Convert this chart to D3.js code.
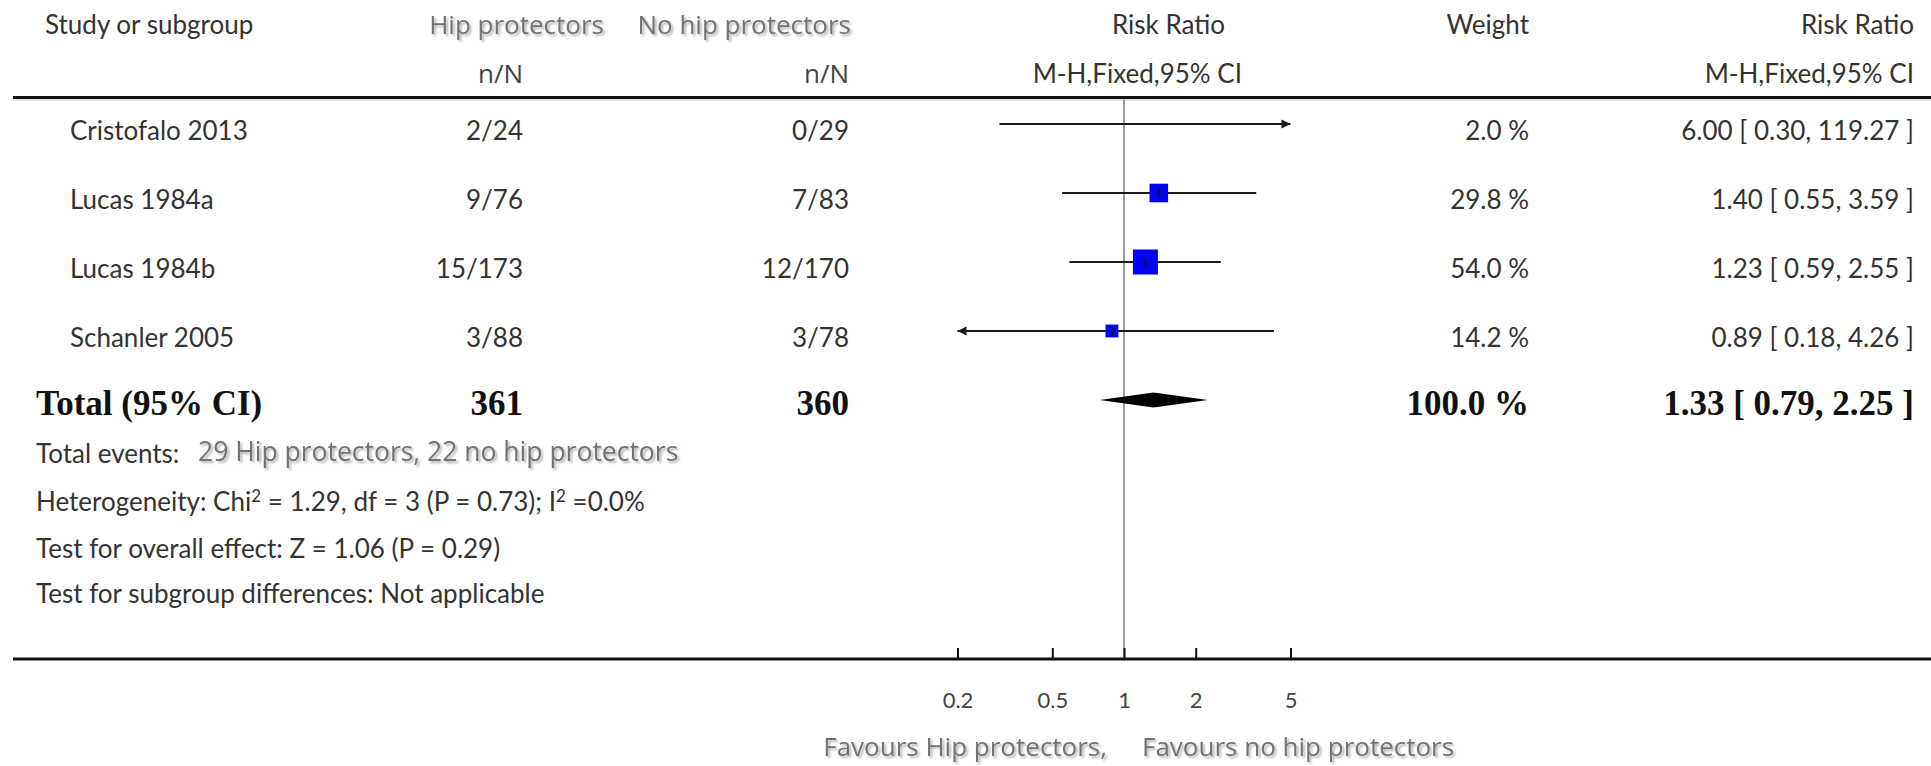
<!DOCTYPE html>
<html>
<head>
<meta charset="utf-8">
<script src="https://cdn.jsdelivr.net/npm/d3@7"></script>
<style>
  html, body { margin: 0; padding: 0; background: #fff; }
  svg { display: block; }
  .body { font-family: Lato, "Open Sans", sans-serif; font-size: 26px; fill: #333; }
  .seg { font-family: "Open Sans", "Noto Sans", sans-serif; }
  .gray { fill: #737373; filter: url(#sh); }
  .bold { font-family: "Liberation Serif", "DejaVu Serif", serif; font-weight: bold; fill: #111; }
</style>
</head>
<body>
<script>
// ---------------- data ----------------
const studies   = ["Cristofalo 2013", "Lucas 1984a", "Lucas 1984b", "Schanler 2005"];
const hipEvents = [2, 9, 15, 3];
const hipTotal  = [24, 76, 173, 88];
const noEvents  = [0, 7, 12, 3];
const noTotal   = [29, 83, 170, 78];
const weights   = [2.0, 29.8, 54.0, 14.2];
const rr        = [6.00, 1.40, 1.23, 0.89];
const ciLow     = [0.30, 0.55, 0.59, 0.18];
const ciHigh    = [119.27, 3.59, 2.55, 4.26];
const totalRR   = [1.33, 0.79, 2.25];
const totalN    = [361, 360];
const totalWeight = 100.0;
const tickValues = [0.2, 0.5, 1, 2, 5];
const tickLabels = ["0.2", "0.5", "1", "2", "5"];
const footerLines = [
  "Total events:",
  "Heterogeneity: Chi",
  "Test for overall effect: Z = 1.06 (P = 0.29)",
  "Test for subgroup differences: Not applicable"
];
const totalEventsText = "29 Hip protectors, 22 no hip protectors";
const favours = ["Favours Hip protectors,", "Favours no hip protectors"];

// ---------------- layout ----------------
const W = 1931, H = 766;
const svg = d3.select("body").append("svg").attr("width", W).attr("height", H);
const defs = svg.append("defs");
const f = defs.append("filter").attr("id", "sh").attr("x", "-5%").attr("y", "-30%").attr("width", "115%").attr("height", "170%");
f.append("feDropShadow").attr("dx", 2).attr("dy", 2).attr("stdDeviation", 1.2)
  .attr("flood-color", "#000").attr("flood-opacity", 0.3);

const x = d3.scaleLog().domain([0.2, 5]).range([957.5, 1290.5]);
const rowIdx = d3.range(studies.length + 1);
const y = d3.scalePoint().domain(rowIdx).range([124, 400]);
const size = d3.scaleSqrt().domain([0, 100]).range([0, 34]);

const topRuleY = 97.5, axisY = 659;
const colStudy = 70, colHip = 523, colNo = 849, colWeight = 1529, colRR = 1914;

const g = svg.append("g").attr("class", "body");

// header
g.append("text").attr("x", 45).attr("y", 34).text("Study or subgroup");
g.append("text").attr("class", "seg gray").attr("x", 604).attr("y", 34).attr("text-anchor", "end").text("Hip protectors");
g.append("text").attr("class", "seg gray").attr("x", 851).attr("y", 34).attr("text-anchor", "end").text("No hip protectors");
g.append("text").attr("class", "seg").attr("x", colHip).attr("y", 83).attr("text-anchor", "end").style("fill", "#444").text("n/N");
g.append("text").attr("class", "seg").attr("x", colNo).attr("y", 83).attr("text-anchor", "end").style("fill", "#444").text("n/N");
g.append("text").attr("x", 1225).attr("y", 34).attr("text-anchor", "end").text("Risk Ratio");
g.append("text").attr("x", 1242).attr("y", 83).attr("text-anchor", "end").text("M-H,Fixed,95% CI");
g.append("text").attr("x", colWeight).attr("y", 34).attr("text-anchor", "end").text("Weight");
g.append("text").attr("x", colRR).attr("y", 34).attr("text-anchor", "end").text("Risk Ratio");
g.append("text").attr("x", colRR).attr("y", 83).attr("text-anchor", "end").text("M-H,Fixed,95% CI");

// rules
svg.append("line").attr("x1", 13).attr("x2", W).attr("y1", topRuleY).attr("y2", topRuleY)
  .attr("stroke", "#111").attr("stroke-width", 3);
svg.append("line").attr("x1", 13).attr("x2", W).attr("y1", topRuleY + 2.5).attr("y2", topRuleY + 2.5)
  .attr("stroke", "#ccc").attr("stroke-width", 1);

// reference line at 1
svg.append("line").attr("x1", x(1)).attr("x2", x(1)).attr("y1", topRuleY + 2).attr("y2", axisY)
  .attr("stroke", "#9a9a9a").attr("stroke-width", 2);

// rows text
const fmt2 = d3.format(".2f"), fmt1 = d3.format(".1f");
studies.forEach((s, i) => {
  const by = y(i) + 16;
  g.append("text").attr("x", colStudy).attr("y", by).text(s);
  g.append("text").attr("x", colHip).attr("y", by).attr("text-anchor", "end").text(hipEvents[i] + "/" + hipTotal[i]);
  g.append("text").attr("x", colNo).attr("y", by).attr("text-anchor", "end").text(noEvents[i] + "/" + noTotal[i]);
  g.append("text").attr("x", colWeight).attr("y", by).attr("text-anchor", "end").text(fmt1(weights[i]) + " %");
  g.append("text").attr("x", colRR).attr("y", by).attr("text-anchor", "end")
    .text(fmt2(rr[i]) + " [ " + fmt2(ciLow[i]) + ", " + fmt2(ciHigh[i]) + " ]");
});

// CI lines, arrows, squares
const [dmin, dmax] = x.domain();
const plot = svg.append("g");
studies.forEach((s, i) => {
  const cy = y(i);
  const clipL = ciLow[i] < dmin, clipR = ciHigh[i] > dmax;
  const x1 = x(Math.max(ciLow[i], dmin)), x2 = x(Math.min(ciHigh[i], dmax));
  plot.append("line").attr("x1", x1).attr("x2", x2).attr("y1", cy).attr("y2", cy)
    .attr("stroke", "#1a1a1a").attr("stroke-width", 2);
  if (clipR) plot.append("path").attr("d", `M${x2},${cy}l-9,-4.5v9z`).attr("fill", "#1a1a1a");
  if (clipL) plot.append("path").attr("d", `M${x1},${cy}l9,-4.5v9z`).attr("fill", "#1a1a1a");
  if (rr[i] >= dmin && rr[i] <= dmax) {
    const sz = size(weights[i]);
    plot.append("rect").attr("x", x(rr[i]) - sz / 2).attr("y", cy - sz / 2)
      .attr("width", sz).attr("height", sz).attr("fill", "#0000ff");
    plot.append("line").attr("x1", x(rr[i])).attr("x2", x(rr[i])).attr("y1", cy - 4.5).attr("y2", cy + 4.5)
      .attr("stroke", "#111").attr("stroke-width", 2);
  }
});

// total row
const ty = y(studies.length);
plot.append("path")
  .attr("d", `M${x(totalRR[1])},${ty}L${x(totalRR[0])},${ty - 7.5}L${x(totalRR[2])},${ty}L${x(totalRR[0])},${ty + 7.5}Z`)
  .attr("fill", "#000");
const tb = ty + 15;
const bg = svg.append("g").attr("class", "bold").style("font-size", "35px");
bg.append("text").attr("x", 36).attr("y", tb).text("Total (95% CI)");
bg.append("text").attr("x", colHip).attr("y", tb).attr("text-anchor", "end").text(totalN[0]);
bg.append("text").attr("x", colNo).attr("y", tb).attr("text-anchor", "end").text(totalN[1]);
bg.append("text").attr("x", colWeight).attr("y", tb).attr("text-anchor", "end").text(fmt1(totalWeight) + " %");
bg.append("text").attr("x", colRR).attr("y", tb).attr("text-anchor", "end")
  .text(fmt2(totalRR[0]) + " [ " + fmt2(totalRR[1]) + ", " + fmt2(totalRR[2]) + " ]");

// footer
const fy = [463, 511, 558, 603];
g.append("text").attr("x", 36).attr("y", fy[0]).text(footerLines[0]);
g.append("text").attr("class", "seg gray").attr("x", 198).attr("y", fy[0] - 2).style("font-size", "26.5px").text(totalEventsText);
const het = g.append("text").attr("x", 36).attr("y", fy[1]);
het.append("tspan").text(footerLines[1]);
het.append("tspan").attr("dy", -9).style("font-size", "17px").text("2");
het.append("tspan").attr("dy", 9).text(" = 1.29, df = 3 (P = 0.73); I");
het.append("tspan").attr("dy", -9).style("font-size", "17px").text("2");
het.append("tspan").attr("dy", 9).text(" =0.0%");
g.append("text").attr("x", 36).attr("y", fy[2]).text(footerLines[2]);
g.append("text").attr("x", 36).attr("y", fy[3]).text(footerLines[3]);

// axis
svg.append("line").attr("x1", 13).attr("x2", W).attr("y1", axisY).attr("y2", axisY)
  .attr("stroke", "#111").attr("stroke-width", 3);
const axis = d3.axisBottom(x).tickValues(tickValues)
  .tickFormat((d, i) => tickLabels[i]).tickSizeInner(-11).tickSizeOuter(0).tickPadding(33);
const ag = svg.append("g").attr("transform", `translate(0,${axisY})`).call(axis);
ag.select(".domain").remove();
ag.selectAll(".tick line").attr("stroke", "#111").attr("stroke-width", 2);
ag.selectAll(".tick text").attr("fill", "#444").style("font-family", "Lato, sans-serif").style("font-size", "22px");

// favours labels
g.append("text").attr("class", "seg gray").attr("x", 1107).attr("y", 756).attr("text-anchor", "end").text(favours[0]);
g.append("text").attr("class", "seg gray").attr("x", 1142).attr("y", 756).text(favours[1]);
</script>
</body>
</html>
